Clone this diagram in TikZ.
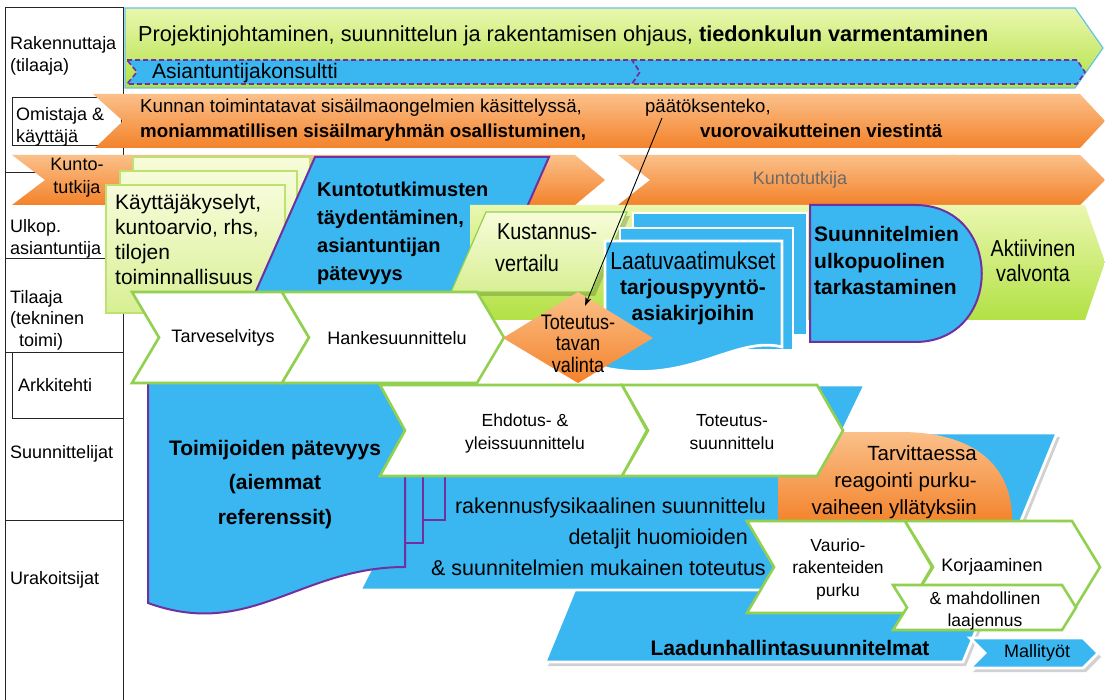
\documentclass[tikz,border=0pt]{standalone}
\usepackage{fontspec}
\setmainfont{Liberation Sans}
\newfontfamily\condensed[FakeStretch=0.86]{Liberation Sans}
\usetikzlibrary{arrows.meta,calc}

\newcommand\fs[2]{\fontsize{#1}{#2}\selectfont}
% chevron: left x, right x, top y, bottom y, point depth
\newcommand\chevpath[5]{(#1,#3) -- (#2,#3) -- ({#2+#5},{(#3+#4)/2}) -- (#2,#4) -- (#1,#4) -- ({#1+#5},{(#3+#4)/2}) -- cycle}

\definecolor{skyblue}{RGB}{58,182,240}
\definecolor{purp}{RGB}{112,48,160}
\definecolor{limeB}{RGB}{146,208,80}
\definecolor{limeTop}{RGB}{234,247,175}
\definecolor{limeBot}{RGB}{178,225,68}
\definecolor{paleTop}{RGB}{247,252,218}
\definecolor{paleBot}{RGB}{216,239,148}
\definecolor{paleB}{RGB}{190,226,112}
\definecolor{orTop}{RGB}{251,192,138}
\definecolor{orBot}{RGB}{243,130,42}
\definecolor{cyanB}{RGB}{100,195,230}
\definecolor{greytxt}{RGB}{105,105,105}

\tikzset{
  lane/.style={draw=black!85, line width=1pt},
  lbl/.style={anchor=base west, inner sep=0, font=\fs{18}{22}},
  txt/.style={inner sep=0, text=black},
  chev/.style={draw=limeB, line width=2.6pt, fill=white, line join=miter},
  bluesh/.style={fill=skyblue, draw=white, line width=2.8pt, line join=miter},
  purpsh/.style={fill=skyblue, draw=purp, line width=2pt, line join=miter},
  orangesh/.style={top color=orTop, bottom color=orBot},
  limesh/.style={top color=limeTop, bottom color=limeBot},
  palesh/.style={top color=paleTop, bottom color=paleBot, draw=paleB, line width=1.2pt},
  dashbar/.style={fill=skyblue, draw=purp, line width=1.6pt, dash pattern=on 5pt off 3pt},
  shadow/.style={fill=black, opacity=0.18, shift={(3pt,-4pt)}},
}

\begin{document}
\begin{tikzpicture}[x=1pt,y=-1pt]
\useasboundingbox (0,0) rectangle (1105,700);
\fill[white] (0,0) rectangle (1105,700);

% ---- lane column ----
\draw[lane] (5,700) -- (5,8) -- (123,8) -- (123,700);
\draw[lane] (5,173) -- (123,173) (5,259) -- (123,259) (5,352) -- (123,352) (5,520) -- (123,520);
\draw[lane] (12,98) rectangle (121,146);
\draw[lane] (12,352) -- (12,418) -- (123,418);
\node[lbl] (l1a) at (10,50) {Rakennuttaja};
\node[lbl] (l1b) at (10,72) {(tilaaja)};
\node[lbl] (l2a) at (16,121) {Omistaja \&};
\node[lbl] (l2b) at (16,143) {käyttäjä};
\node[lbl] (l4a) at (10,233) {Ulkop.};
\node[lbl] (l4b) at (10,255) {asiantuntija};
\node[lbl] (l5a) at (10,304) {Tilaaja};
\node[lbl] (l5b) at (10,325) {(tekninen};
\node[lbl] (l5c) at (19,346) {toimi)};
\node[lbl] (l6) at (18,391) {Arkkitehti};
\node[lbl] (l7) at (10,458) {Suunnittelijat};
\node[lbl] (l8) at (10,584) {Urakoitsijat};

% ---- top band: project management ----
\path[limesh, draw=cyanB, line width=1.2pt] (125,8) -- (1075,8) -- (1103,48) -- (1075,88) -- (125,88) -- cycle;
\node[txt, anchor=base west, font=\fs{21.7}{24}] (proj) at (138,42)
  {Projektinjohtaminen, suunnittelun ja rakentamisen ohjaus, \textbf{tiedonkulun varmentaminen}};
\path[dashbar] (127,60) -- (632,60) -- (640,72) -- (632,84) -- (127,84) -- (137,72) -- cycle;
\path[dashbar] (632,60) -- (1077,60) -- (1085,72) -- (1077,84) -- (632,84) -- (640,72) -- cycle;
\node[txt, anchor=base west, font=\fs{21}{24}] (konsult) at (152,79) {Asiantuntijakonsultti};

% ---- owner band ----
\path[orangesh] (93,94) -- (1080,94) -- (1105,121) -- (1080,148) -- (95,148) -- (123,121) -- cycle;
\node[txt, anchor=base west, font=\fs{18.7}{20}] (kunnan) at (140,113) {Kunnan toimintatavat sisäilmaongelmien käsittelyssä,};
\node[txt, anchor=base west, font=\fs{18.7}{20}\bfseries] (moni) at (140,138) {moniammatillisen sisäilmaryhmän osallistuminen,};
\node[txt, anchor=base west, font=\fs{18.5}{20}] (paatos) at (645,113) {päätöksenteko,};
\node[txt, anchor=base west, font=\fs{18.7}{20}\bfseries] (vuoro) at (700,138) {vuorovaikutteinen viestintä};

% ---- condition surveyor band ----
\path[orangesh] (950,155) -- (1080,155) -- (1105,180) -- (1080,205) -- (950,205) -- (982,180) -- cycle;
\path[orangesh] (618,155) -- (955,155) -- (985,180) -- (955,205) -- (618,205) -- (650,180) -- cycle;
\path[orangesh] (12,155) -- (575,155) -- (605,180) -- (575,205) -- (12,205) -- (45,180) -- cycle;
\node[txt, font=\fs{18}{20}, text=greytxt] (kt2) at (800,180) {Kuntotutkija};
\node[txt, anchor=base, font=\fs{18}{20}] (kt1a) at (77,171) {Kunto-};
\node[txt, anchor=base, font=\fs{18}{20}] (kt1b) at (77,194) {tutkija};

% ---- user surveys (stacked sheets) ----
\path[palesh] (133,157) rectangle (310,285);
\path[palesh] (120,171) rectangle (297,300);
\path[palesh] (106,185) rectangle (285,313);
\node[txt, anchor=base west, align=left, font=\fs{21}{25}] (kayt) at (115,285)
  {Käyttäjäkyselyt,\\kuntoarvio, rhs,\\tilojen\\toiminnallisuus};

% ---- supplementary surveys ----
\path[purpsh] (315,157) -- (549,157) -- (486,300) -- (252,300) -- cycle;
\node[txt, anchor=base west, align=left, font=\fs{20}{28}\bfseries] (taydent) at (317,281)
  {Kuntotutkimusten\\täydentäminen,\\asiantuntijan\\pätevyys};

% ---- active supervision band ----
\path[limesh] (470,205) -- (1085,205) -- (1105,262) -- (1085,320) -- (470,320) -- cycle;
\path[shadow] (486,212) -- (627,212) -- (592,292) -- (451,292) -- cycle;
\path[palesh, draw=limeB] (486,212) -- (627,212) -- (592,292) -- (451,292) -- cycle;
\node[txt, anchor=base west, font=\fs{23}{25}\condensed] (kust1) at (497,240) {Kustannus-};
\node[txt, anchor=base west, font=\fs{23}{25}\condensed] (kust2) at (495,272) {vertailu};

% ---- tender documents ----
\path[bluesh] (633,213) rectangle (807,335);
\path[bluesh] (620,228) rectangle (793,350);
\path[bluesh] (605,241) -- (782,241) -- (782,347) .. controls (735,335) and (690,385) .. (605,368) -- cycle;
\node[txt, anchor=base, font=\fs{24.5}{25}\condensed] (laatu) at (693,270) {Laatuvaatimukset};
\node[txt, anchor=base, align=center, font=\fs{21}{25}\bfseries] (tarj) at (693,320) {tarjouspyyntö-\\asiakirjoihin};

% ---- external plan review ----
\path[purpsh] (810,205) -- (915,205) .. controls (1004,205) and (1004,342) .. (915,342) -- (810,342) -- cycle;
\node[txt, anchor=base west, align=left, font=\fs{21}{26.5}\bfseries] (tark) at (814,295)
  {Suunnitelmien\\ulkopuolinen\\tarkastaminen};
\node[txt, anchor=base, align=center, font=\fs{23}{25}\condensed] (valv) at (1033,282) {Aktiivinen\\valvonta};

% ---- design and construction bands ----
\path[shadow] (639,433) -- (1057,433) -- (963,662) -- (545,662) -- cycle;
\path[bluesh] (639,433) -- (1057,433) -- (963,662) -- (545,662) -- cycle;
\path[bluesh] (465,385) -- (865,385) -- (766,590) -- (360,590) -- cycle;
\node[txt, anchor=base east, font=\fs{21.5}{31}] (rakfys1) at (766,513) {rakennusfysikaalinen suunnittelu};
\node[txt, anchor=base east, font=\fs{21.5}{31}] (rakfys2) at (748,544) {detaljit huomioiden};
\node[txt, anchor=base east, font=\fs{21.5}{31}] (rakfys3) at (766,575) {\& suunnitelmien mukainen toteutus};
\node[txt, font=\fs{21}{25}\bfseries] (laadun) at (790,648) {Laadunhallintasuunnitelmat};

% ---- demolition surprises (behind the design phases) ----
\path[orangesh] (778,524) -- (778,432) -- (900,432) .. controls (985,432) and (1014,475) .. (1012,524) -- cycle;
\node[txt, anchor=base east, align=right, font=\fs{20.5}{27}] (tarv) at (977,514)
  {Tarvittaessa\\reagointi purku-\\vaiheen yllätyksiin};

% ---- competence documents ----
\path[purpsh] (190,355) rectangle (445,520);
\path[purpsh] (170,365) rectangle (423,543);
\path[purpsh] (148,375) -- (405,375) -- (405,567) .. controls (300,567) and (250,640) .. (148,603) -- cycle;
\node[txt, anchor=base, align=center, font=\fs{21}{34.5}\bfseries] (toimij) at (275,524)
  {Toimijoiden pätevyys\\(aiemmat\\referenssit)};

% ---- project phases ----
\path[chev] \chevpath{132}{282}{292}{383}{27};
\path[chev] \chevpath{282}{477}{292}{383}{27};
\node[txt, font=\fs{18}{22}] (tarve) at (223,338) {Tarveselvitys};
\node[txt, font=\fs{18}{22}] (hanke) at (397,338) {Hankesuunnittelu};

\path[orangesh] (578,292) -- (653,338) -- (578,383) -- (503,338) -- cycle;
\node[txt, anchor=base, align=center, font=\fs{21}{21.5}\condensed] (valinta) at (578,372) {Toteutus-\\tavan\\valinta};

\path[chev] \chevpath{380}{622}{385}{476}{25};
\path[chev] \chevpath{622}{817}{385}{476}{26};
\node[txt, anchor=base, align=center, font=\fs{17.5}{23}] (ehd) at (525,449) {Ehdotus- \&\\yleissuunnittelu};
\node[txt, anchor=base, align=center, font=\fs{17.5}{23}] (tots) at (732,449) {Toteutus-\\suunnittelu};

\path[chev] \chevpath{747}{905}{521}{613}{27};
\path[chev] \chevpath{905}{1072}{521}{613}{28};
\path[chev] \chevpath{893}{1062}{585}{630}{14};
\node[txt, anchor=base, align=center, font=\fs{17.5}{22.5}] (vaurio) at (838,596) {Vaurio-\\rakenteiden\\purku};
\node[txt, font=\fs{18}{22}] (korj) at (992,567) {Korjaaminen};
\node[txt, anchor=base, align=center, font=\fs{17.5}{22}] (laaj) at (985,626) {\& mahdollinen\\laajennus};

\path[shadow] \chevpath{970}{1083}{638}{668}{15};
\path[bluesh] \chevpath{970}{1083}{638}{668}{15};
\node[txt, font=\fs{18}{22}] (malli) at (1037,653) {Mallityöt};

% ---- decision pointer ----
\coordinate (arrS) at ($(paatos.base west)+(17,5)$);
\coordinate (arrE) at (585,306);
\draw[-{Stealth[length=9pt,width=6pt]}, line width=0.9pt] (arrS) -- (arrE);
\end{tikzpicture}
\end{document}
